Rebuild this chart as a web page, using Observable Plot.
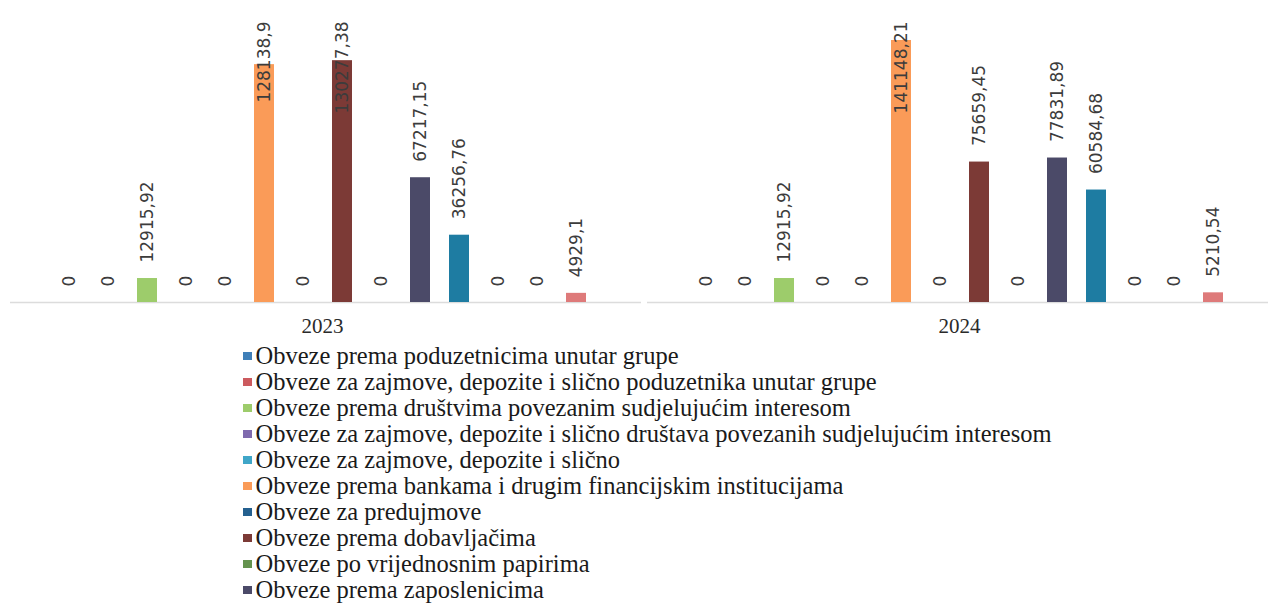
<!DOCTYPE html>
<html>
<head>
<meta charset="utf-8">
<script src="https://cdn.jsdelivr.net/npm/d3@7"></script>
<script src="https://cdn.jsdelivr.net/npm/@observablehq/plot@0.6"></script>
<style>
  html, body { margin: 0; padding: 0; background: #fff; }
  #chart { position: relative; width: 1268px; }
  #legend { margin-left: 243px; margin-top: 3px; font-family: "Liberation Serif", serif; font-size: 24.5px; color: #1a1a1a; }
  #legend .item { height: 26px; line-height: 26px; white-space: nowrap; display: flex; align-items: center; }
  #legend .sw { width: 8.5px; height: 8.5px; margin-right: 4px; flex: none; }
</style>
</head>
<body>
<div id="chart"></div>
<div id="legend"></div>
<script>
const years = ["2023", "2024"];
const series = [
  "Obveze prema poduzetnicima unutar grupe",
  "Obveze za zajmove, depozite i slično poduzetnika unutar grupe",
  "Obveze prema društvima povezanim sudjelujućim interesom",
  "Obveze za zajmove, depozite i slično društava povezanih sudjelujućim interesom",
  "Obveze za zajmove, depozite i slično",
  "Obveze prema bankama i drugim financijskim institucijama",
  "Obveze za predujmove",
  "Obveze prema dobavljačima",
  "Obveze po vrijednosnim papirima",
  "Obveze prema zaposlenicima",
  "Obveze za poreze, doprinose i slična davanja",
  "Obveze s osnove udjela u rezultatu",
  "Obveze po osnovi dugotrajne imovine namijenjene prodaji",
  "Ostale kratkoročne obveze"
];
const values2023 = [0, 0, 12915.92, 0, 0, 128138.9, 0, 130277.38, 0, 67217.15, 36256.76, 0, 0, 4929.1];
const values2024 = [0, 0, 12915.92, 0, 0, 141148.21, 0, 75659.45, 0, 77831.89, 60584.68, 0, 0, 5210.54];
const colors = [
  "#3f7fb8", "#cc5a5e", "#9dcc6b", "#7f6aae", "#3fa6c8", "#fa9b58", "#24608f",
  "#7c3a36", "#64934e", "#4b4a68", "#1e7ca2", "#b65708", "#729aca", "#de7a7a"
];
// the reference's legend is cut by the picture's lower edge after ten entries
const legendVisible = 10;

const rows = [];
years.forEach((yr, i) => {
  const vals = i === 0 ? values2023 : values2024;
  series.forEach((s, j) => rows.push({year: yr, series: s, value: vals[j]}));
});

// geometry
const W = 1268, H = 340, MT = 5, MB = 38, ML = 18, MR = 4;
const YMAX = 160000;
const k = (H - MT - MB) / YMAX;        // px per unit
const baseY = H - MB;
const TOP_LIMIT = 21, GAP = 16;
const fmt = v => String(v).replace(".", ",");
const textLen = s => s.replace(/[^0-9]/g, "").length * 10.8 + (s.includes(",") ? 5.5 : 0);
rows.forEach(d => {
  d.label = fmt(d.value);
  const anchor = Math.max(baseY - d.value * k - GAP, TOP_LIMIT + textLen(d.label));
  d.labelY = (baseY - anchor - GAP) / k;
});

const plot = Plot.plot({
  width: W, height: H,
  marginTop: MT, marginBottom: MB, marginLeft: ML, marginRight: MR,
  style: {background: "transparent"},
  fx: {domain: years, paddingInner: 0.124, paddingOuter: 0.04, label: null},
  x: {domain: series, paddingInner: 0.5, paddingOuter: 0.25, axis: null},
  y: {domain: [0, YMAX], axis: null},
  color: {domain: series, range: colors},
  marks: [
    Plot.ruleY([0], {stroke: "#dcdcdc", strokeWidth: 1.5, insetLeft: -33, insetRight: -40}),
    Plot.barY(rows, {fx: "year", x: "series", y: "value", fill: "series"}),
    Plot.text(rows, {
      fx: "year", x: "series", y: "labelY", text: "label",
      rotate: -90, textAnchor: "start", lineAnchor: "middle", dy: -GAP,
      fontFamily: "DejaVu Sans", fontSize: 17, fill: "#3c3c3c"
    }),
    Plot.axisFx({
      anchor: "bottom", tickSize: 0, tickPadding: 16, label: null,
      fontFamily: "Liberation Serif", fontSize: 21, color: "#2a2a2a"
    })
  ]
});
document.getElementById("chart").appendChild(plot);

const legend = document.getElementById("legend");
series.slice(0, legendVisible).forEach((s, i) => {
  const item = document.createElement("div");
  item.className = "item";
  const sw = document.createElement("span");
  sw.className = "sw";
  sw.style.background = colors[i];
  const t = document.createElement("span");
  t.textContent = s;
  item.appendChild(sw);
  item.appendChild(t);
  legend.appendChild(item);
});
</script>
</body>
</html>
